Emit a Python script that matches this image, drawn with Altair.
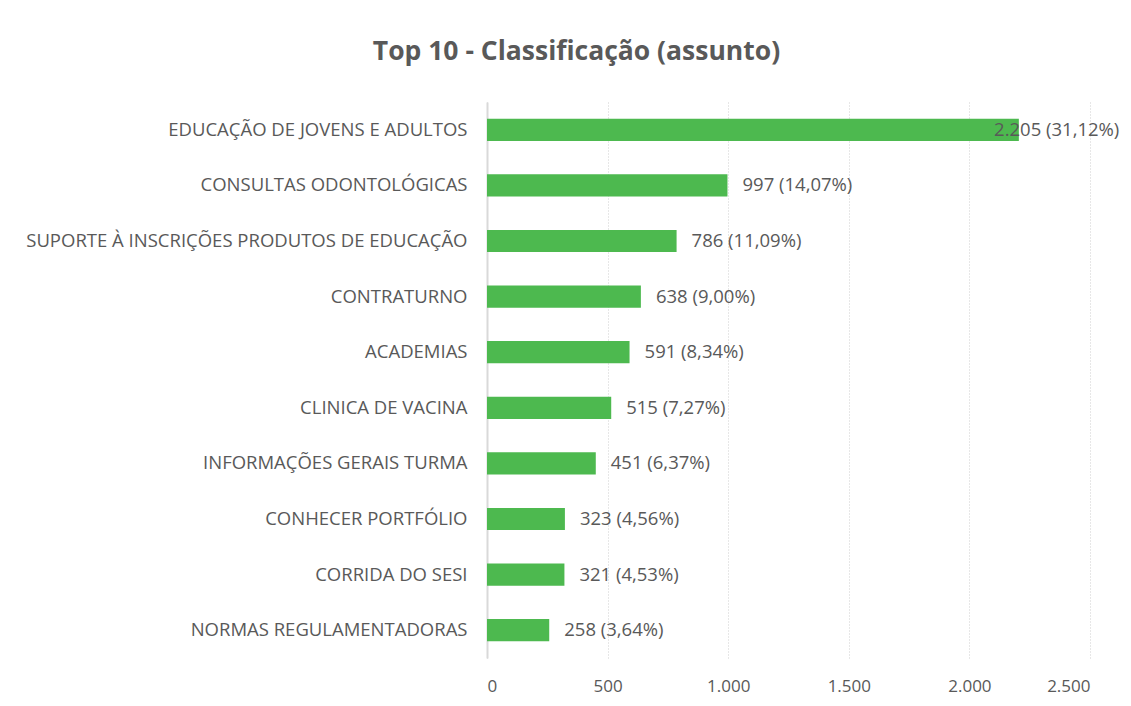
import altair as alt
import pandas as pd

categories = [
    "EDUCAÇÃO DE JOVENS E ADULTOS",
    "CONSULTAS ODONTOLÓGICAS",
    "SUPORTE À INSCRIÇÕES PRODUTOS DE EDUCAÇÃO",
    "CONTRATURNO",
    "ACADEMIAS",
    "CLINICA DE VACINA",
    "INFORMAÇÕES GERAIS TURMA",
    "CONHECER PORTFÓLIO",
    "CORRIDA DO SESI",
    "NORMAS REGULAMENTADORAS",
]
values = [2205, 997, 786, 638, 591, 515, 451, 323, 321, 258]
percents = ["31,12%", "14,07%", "11,09%", "9,00%", "8,34%", "7,27%", "6,37%", "4,56%", "4,53%", "3,64%"]
x_ticks = [0, 500, 1000, 1500, 2000, 2500]


def fmt_int(v):
    return f"{v:,}".replace(",", ".")


df = pd.DataFrame({
    "cat": categories,
    "value": values,
    "label": [f"{fmt_int(v)} ({p})" for v, p in zip(values, percents)],
})

GREEN = "#4DB94F"
GRAY = "#595959"
FONT = "Open Sans"

y_enc = alt.Y(
    "cat:N",
    sort=categories,
    title=None,
    scale=alt.Scale(paddingInner=0.6, paddingOuter=0.3),
    axis=alt.Axis(
        domain=True, domainColor="#d9d9d9", domainWidth=2, ticks=False,
        labelPadding=20, labelFontSize=18.5, labelColor=GRAY, labelFont=FONT,
        labelLimit=600,
    ),
)

bars = alt.Chart(df).mark_bar(color=GREEN).encode(
    x=alt.X(
        "value:Q",
        title=None,
        scale=alt.Scale(domain=[0, 2500], nice=False),
        axis=alt.Axis(
            values=x_ticks, domain=False, ticks=False, grid=True,
            gridColor="#cfcfcf", gridDash=[1, 2], gridWidth=1,
            labelPadding=20, labelFontSize=17, labelColor=GRAY, labelFont=FONT,
            labelExpr="replace(format(datum.value, ','), ',', '.')",
        ),
    ),
    y=y_enc,
)

text = alt.Chart(df).transform_calculate(
    pos="min(datum.value, 2040)"
).mark_text(
    align="left", baseline="middle", dx=15, fontSize=18.5, color=GRAY, font=FONT
).encode(
    x=alt.X("pos:Q"),
    y=alt.Y("cat:N", sort=categories),
    text="label:N",
)

chart = (bars + text).properties(
    width=603,
    height=556,
    padding={"left": 479, "top": 94, "right": 33, "bottom": 40},
    autosize=alt.AutoSizeParams(type="none"),
    title=alt.TitleParams(
        "Top 10 - Classificação (assunto)",
        fontSize=26.5, fontWeight="bold", color=GRAY, font=FONT,
        anchor="middle", baseline="alphabetic", offset=16, dx=-212,
    ),
).configure_view(stroke=None)

chart.save("out.html", embed_options={"renderer": "svg", "actions": False})
